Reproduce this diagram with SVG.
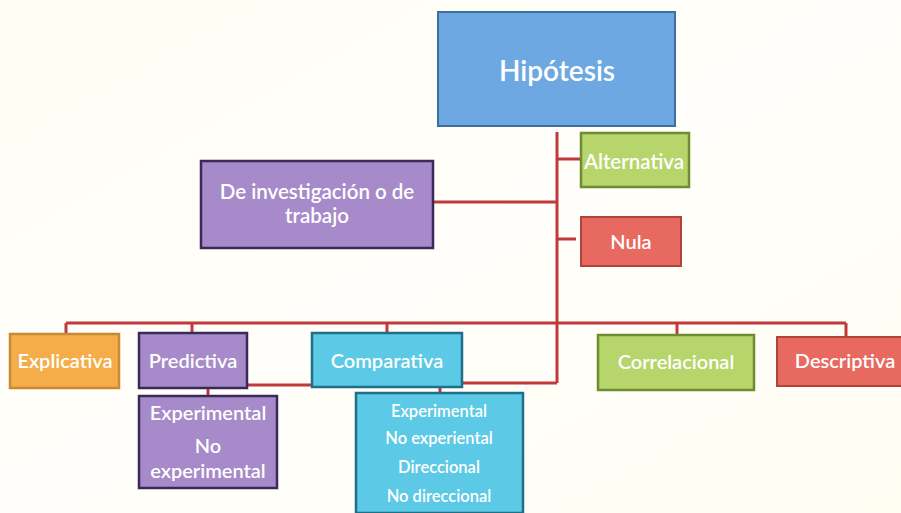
<svg xmlns="http://www.w3.org/2000/svg" width="901" height="513" viewBox="0 0 901 513">
<defs>
<style>
.t{font-family:Lato,"Open Sans","Noto Sans",sans-serif;fill:#ffffff;text-anchor:middle;font-weight:600}
.c{stroke:#c0393b;stroke-width:3;fill:none}
.blue{fill:#6ea8e2;stroke:#3d6f9f;stroke-width:2}
.green{fill:#b6d56b;stroke:#6f8c30;stroke-width:2.5}
.red{fill:#e8695f;stroke:#b0443c;stroke-width:2}
.purple{fill:#a68ac9;stroke:#3b2a58;stroke-width:2.5}
.orange{fill:#f5ad4a;stroke:#c88a34;stroke-width:2.5}
.cyan{fill:#5cc9e7;stroke:#1f6f86;stroke-width:2.5}
</style>
<linearGradient id="bg" x1="0" y1="0" x2="1" y2="1">
<stop offset="0" stop-color="#fffdf3"/>
<stop offset="0.5" stop-color="#fffefa"/>
<stop offset="1" stop-color="#fffdf2"/>
</linearGradient>
</defs>
<rect x="0" y="0" width="901" height="513" fill="url(#bg)"/>
<g id="connectors">
<path class="c" d="M557 132 V383"/>
<path class="c" d="M557 159 H581"/>
<path class="c" d="M557 239 H576"/>
<path class="c" d="M433 202 H557"/>
<path class="c" d="M66 323 H846"/>
<path class="c" d="M66 323 V334"/>
<path class="c" d="M192 323 V333"/>
<path class="c" d="M387 323 V333"/>
<path class="c" d="M677 323 V335"/>
<path class="c" d="M846 323 V336"/>
<path class="c" d="M247 385 H312"/>
<path class="c" d="M462 383 H557"/>
<path class="c" d="M208 388 V396"/>
<path class="c" d="M440 387 V393"/>
</g>
<g id="hipotesis"><rect class="blue" x="438" y="12" width="237" height="114"/><text class="t" x="557" y="81" font-size="28">Hipótesis</text></g>
<g id="alternativa"><rect class="green" x="581" y="133" width="108" height="54"/><text class="t" x="634" y="169" font-size="20.5">Alternativa</text></g>
<g id="nula"><rect class="red" x="581" y="217" width="100" height="49"/><text class="t" x="631" y="249" font-size="20">Nula</text></g>
<g id="investigacion"><rect class="purple" x="201" y="161" width="232" height="87"/><text class="t" x="317" y="199" font-size="20.5">De investigación o de</text><text class="t" x="317" y="223" font-size="20.5">trabajo</text></g>
<g id="explicativa"><rect class="orange" x="10" y="334" width="109" height="54"/><text class="t" x="65" y="368" font-size="20">Explicativa</text></g>
<g id="predictiva"><rect class="purple" x="139" y="333" width="108" height="55"/><text class="t" x="193" y="368" font-size="20">Predictiva</text></g>
<g id="predictiva-tipos"><rect class="purple" x="139" y="396" width="138" height="92"/><text class="t" x="208" y="420" font-size="20">Experimental</text><text class="t" x="208" y="453" font-size="20">No</text><text class="t" x="208" y="478" font-size="20">experimental</text></g>
<g id="comparativa"><rect class="cyan" x="312" y="333" width="150" height="54"/><text class="t" x="387" y="368" font-size="20">Comparativa</text></g>
<g id="comparativa-tipos"><rect class="cyan" x="356" y="393" width="167" height="120"/><text class="t" x="439" y="417" font-size="16.5">Experimental</text><text class="t" x="439" y="444" font-size="16.5">No experiental</text><text class="t" x="439" y="473" font-size="16.5">Direccional</text><text class="t" x="439" y="502" font-size="16.5">No direccional</text></g>
<g id="correlacional"><rect class="green" x="598" y="335" width="156" height="55"/><text class="t" x="676" y="369" font-size="20">Correlacional</text></g>
<g id="descriptiva"><rect class="red" x="777" y="337" width="130" height="49"/><text class="t" x="845" y="368" font-size="20">Descriptiva</text></g>
</svg>
